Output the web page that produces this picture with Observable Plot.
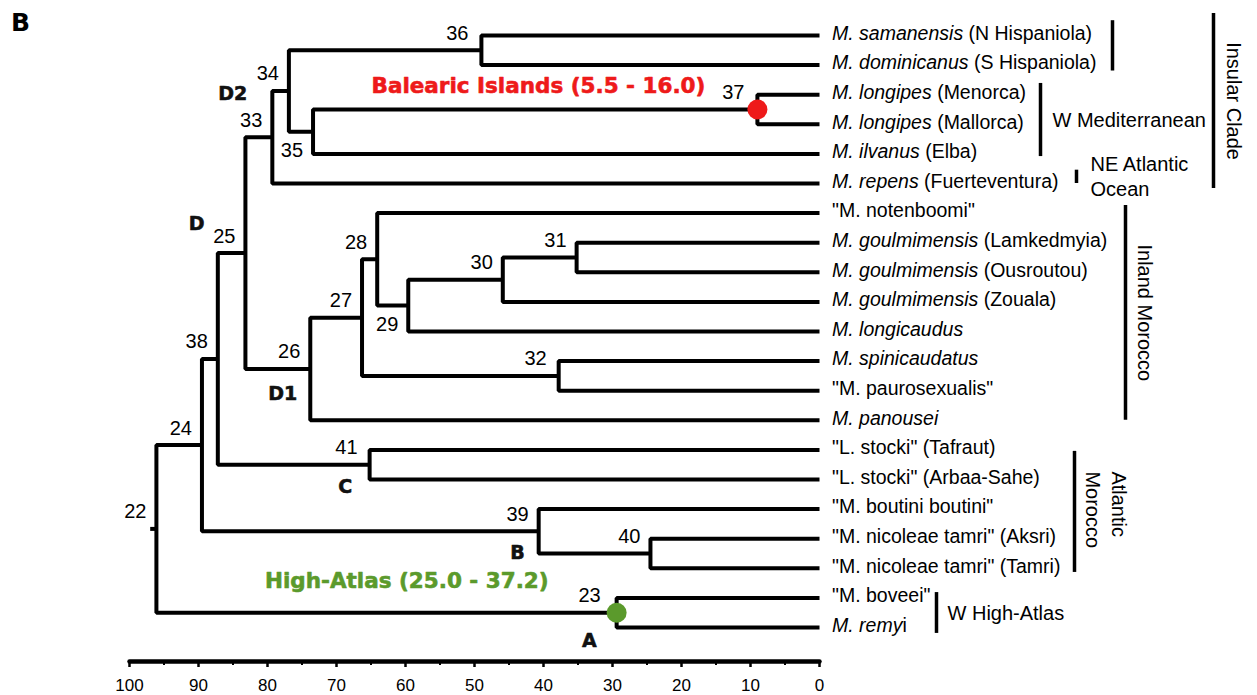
<!DOCTYPE html>
<html><head><meta charset="utf-8">
<script src="https://cdn.jsdelivr.net/npm/d3@7"></script>
<script src="https://cdn.jsdelivr.net/npm/@observablehq/plot@0.6"></script>
<style>
body{margin:0;background:#fff;}
#wrap{position:relative;width:1257px;height:695px;overflow:hidden;}
#panel{position:absolute;left:11px;top:10px;font:bold 25px/25px "DejaVu Sans",sans-serif;color:#000;}
</style></head>
<body><div id="wrap"><div id="panel">B</div></div>
<script>
// ---------- DATA ----------
// tip labels: italic part and upright part (top to bottom)
const tipItalic = ["M. samanensis","M. dominicanus","M. longipes","M. longipes","M. ilvanus","M. repens",
  "","M. goulmimensis","M. goulmimensis","M. goulmimensis","M. longicaudus","M. spinicaudatus","",
  "M. panousei","","","","","","","M. remy"];
const tipPlain = ["(N Hispaniola)","(S Hispaniola)","(Menorca)","(Mallorca)","(Elba)","(Fuerteventura)",
  "\"M. notenboomi\"","(Lamkedmyia)","(Ousroutou)","(Zouala)","","","\"M. paurosexualis\"",
  "","\"L. stocki\" (Tafraut)","\"L. stocki\" (Arbaa-Sahe)","\"M. boutini boutini\"",
  "\"M. nicoleae tamri\" (Aksri)","\"M. nicoleae tamri\" (Tamri)","\"M. boveei\"","i"];
const tipAges = tipItalic.map(() => 0);

// internal nodes: id, age (Ma), children ("tN" = tip N)
const nodeIds  = [22, 23, 24, 25, 26, 27, 28, 29, 30, 31, 32, 33, 34, 35, 36, 37, 38, 39, 40, 41];
const nodeAges = [96.1, 29.4, 89.5, 83.2, 73.8, 66.3, 64.1, 59.6, 45.9, 35.2, 37.8, 79.3, 76.9, 73.4, 49.0, 9.0, 87.2, 40.7, 24.5, 65.2];
const nodeChildren = [[24,23],["t19","t20"],[38,39],[33,26],[27,"t13"],[28,32],["t6",29],[30,"t10"],[31,"t9"],["t7","t8"],
  ["t11","t12"],[34,"t5"],[36,35],[37,"t4"],["t0","t1"],["t2","t3"],[25,41],["t16",40],["t17","t18"],["t14","t15"]];
const rootId = 22;
const rootStubAge = 97.0;

// clade letters and the nodes they label
const cladeLabels = ["D2","D","D1","C","B","A"];
const cladeNodes  = [33, 25, 26, 41, 39, 23];

// calibration points
const calibLabels = ["Balearic Islands (5.5 - 16.0)", "High-Atlas (25.0 - 37.2)"];
const calibNodes  = [37, 23];

// right-hand groupings (first and last tip index)
const groupLabels = ["", "W Mediterranean", "NE Atlantic\nOcean", "Insular Clade", "Inland Morocco", "Atlantic\nMorocco", "W High-Atlas"];
const groupFirst  = [0, 2, 5, 0, 6, 14, 19];
const groupLast   = [1, 4, 5, 5, 13, 18, 20];

// axis ticks
const majorTicks = [0, 10, 20, 30, 40, 50, 60, 70, 80, 90, 100];
const minorTicks = [5, 15, 25, 35, 45, 55, 65, 75, 85, 95];

// ---------- LAYOUT / STYLE ----------
const W = 1257, H = 695;
const sans = '"Liberation Sans", Arial, Helvetica, sans-serif';
const heavy = '"DejaVu Sans", sans-serif';
const tipFont = 19.5;
const belowNodes = new Set([35, 29]);
const nodeLabelDx = {23: -16, 36: -13, 37: -13, 41: -12, 32: -12};
const cladeOffset = {D2: [-25, -43], D: [-41, -29], D1: [-13, 24.5], C: [-17.5, 22.5], B: [-14, 22], A: [-20, 28]};
const calibStyle = [{fill: "#ee1a1a", dx: -52, dy: -23}, {fill: "#5b9a2c", dx: -68, dy: -32}];
const groupLayout = [
  {dx: 293, top: -0.5, bottom: 0.2},
  {dx: 221, top: -0.38, bottom: 0.09, tdx: 12},
  {dx: 257, top: -0.45, bottom: 0, tdx: 14, lineHeight: 1.25},
  {dx: 394, top: -0.74, bottom: 0.17, tdx: 20, rotate: 90},
  {dx: 306, top: -0.26, bottom: 0, tdx: 19, rotate: 90},
  {dx: 255, top: 0.05, bottom: 0.14, tdx: 33, rotate: 90, startTop: 20, lineHeight: 1.3},
  {dx: 117, top: -0.18, bottom: 0.2, tdx: 11}
];

// ---------- TREE BUILD ----------
const nodes = new Map();
nodeIds.forEach((id, i) => nodes.set(id, {id, age: nodeAges[i], children: nodeChildren[i]}));
function pos(ref) {
  if (typeof ref === "string") { const k = +ref.slice(1); return {age: tipAges[k], y: k}; }
  const n = nodes.get(ref);
  if (n.y === undefined) n.y = d3.mean(n.children.map(pos), d => d.y);
  return {age: n.age, y: n.y};
}
nodeIds.forEach(pos);
const nodeList = Array.from(nodes.values());
const bracketPts = [];
for (const n of nodeList) {
  const [a, b] = n.children.map(pos);
  bracketPts.push({z: n.id, x: a.age, y: a.y}, {z: n.id, x: n.age, y: a.y},
                  {z: n.id, x: n.age, y: b.y}, {z: n.id, x: b.age, y: b.y});
}
const root = nodes.get(rootId);
bracketPts.push({z: "root", x: rootStubAge, y: root.y}, {z: "root", x: root.age, y: root.y});

const tips = tipItalic.map((it, i) => ({i, italic: it, plain: tipPlain[i], age: tipAges[i]}));

// text measuring for mixed italic/upright tip labels
const ctx = document.createElement("canvas").getContext("2d");
function tw(s, style) { ctx.font = `${style} ${tipFont}px "Liberation Sans"`; return ctx.measureText(s).width; }

const marks = [];
// axis
marks.push(Plot.frame({anchor: "bottom", strokeWidth: 4.5, strokeLinecap: "round"}));
marks.push(Plot.axisX({ticks: minorTicks, tickSize: 4, strokeWidth: 2, tickFormat: () => "", label: null}));
marks.push(Plot.axisX({ticks: majorTicks, tickSize: 6, tickPadding: 11, strokeWidth: 2.5, fontSize: 17, label: null, tickFormat: d => String(d)}));

// branches
marks.push(Plot.line(bracketPts, {x: "x", y: "y", z: "z", stroke: "black", strokeWidth: 4, strokeLinejoin: "miter", strokeLinecap: "butt"}));

// node numbers
for (const n of nodeList) {
  marks.push(Plot.text([n], {x: "age", y: "y", text: d => String(d.id), textAnchor: "end",
    dx: nodeLabelDx[n.id] ?? -10, dy: belowNodes.has(n.id) ? 19 : -17, fontSize: 20, fontFamily: sans, fill: "black"}));
}

// clade letters
cladeLabels.forEach((lab, i) => {
  const n = nodes.get(cladeNodes[i]);
  const [dx, dy] = cladeOffset[lab];
  marks.push(Plot.text([n], {x: "age", y: "y", text: () => lab, textAnchor: "end", dx, dy,
    fontSize: 19, fontWeight: "bold", fontFamily: heavy, fill: "#111", stroke: "#111", strokeWidth: 0.6}));
});

// calibration dots and labels
calibLabels.forEach((lab, i) => {
  const n = nodes.get(calibNodes[i]);
  const s = calibStyle[i];
  marks.push(Plot.dot([n], {x: "age", y: "y", r: 10, fill: s.fill, stroke: "none"}));
  marks.push(Plot.text([n], {x: "age", y: "y", text: () => lab, textAnchor: "end", dx: s.dx, dy: s.dy,
    fontSize: 21.5, fontWeight: "bold", fontFamily: heavy, fill: s.fill, stroke: s.fill, strokeWidth: 0.6}));
});

// tip labels
marks.push(Plot.text(tips.filter(d => d.italic), {x: "age", y: "i", text: "italic", textAnchor: "start", dx: 12.5, dy: -2,
  fontSize: tipFont, fontStyle: "italic", fontFamily: sans, fill: "black"}));
for (const t of tips) {
  if (!t.plain) continue;
  const off = t.italic ? tw(t.italic, "italic") + (t.plain.startsWith("(") ? tw(" ", "normal") : 0) : 0;
  marks.push(Plot.text([t], {x: "age", y: "i", text: "plain", textAnchor: "start", dx: 12.5 + off, dy: -2,
    fontSize: tipFont, fontFamily: sans, fill: "black"}));
}

// groups
groupLabels.forEach((lab, i) => {
  const L = groupLayout[i];
  const g = {age: 0, y1: groupFirst[i] + L.top, y2: groupLast[i] + L.bottom, label: lab};
  g.ym = (g.y1 + g.y2) / 2;
  marks.push(Plot.ruleX([g], {x: "age", y1: "y1", y2: "y2", dx: L.dx, stroke: "black", strokeWidth: 3.5}));
  if (!lab) return;
  if (L.rotate) {
    if (L.startTop != null) {
      marks.push(Plot.text([g], {x: "age", y: "y1", text: "label", rotate: 90, textAnchor: "start", lineAnchor: "middle",
        dx: L.dx + L.tdx, dy: L.startTop, lineHeight: L.lineHeight ?? 1.2, fontSize: 20, fontFamily: sans, fill: "black"}));
    } else {
      marks.push(Plot.text([g], {x: "age", y: "ym", text: "label", rotate: 90, textAnchor: "middle", lineAnchor: "middle",
        dx: L.dx + L.tdx, fontSize: 20, fontFamily: sans, fill: "black"}));
    }
  } else {
    marks.push(Plot.text([g], {x: "age", y: "ym", text: "label", textAnchor: "start", lineAnchor: "middle",
      dx: L.dx + L.tdx, dy: -1, lineHeight: L.lineHeight ?? 1.2, fontSize: 20, fontFamily: sans, fill: "black"}));
  }
});

const chart = Plot.plot({
  width: W, height: H,
  marginLeft: 129, marginRight: W - 819, marginTop: 0, marginBottom: 34,
  style: {background: "white", fontFamily: sans, overflow: "visible"},
  x: {domain: [100, 0], range: [129, 819]},
  y: {domain: [0, 20], range: [35, 627], axis: null},
  marks
});
chart.style.position = "absolute";
chart.style.left = "0";
chart.style.top = "0";
const wrap = document.getElementById("wrap");
wrap.insertBefore(chart, wrap.firstChild);
</script>
</body></html>
